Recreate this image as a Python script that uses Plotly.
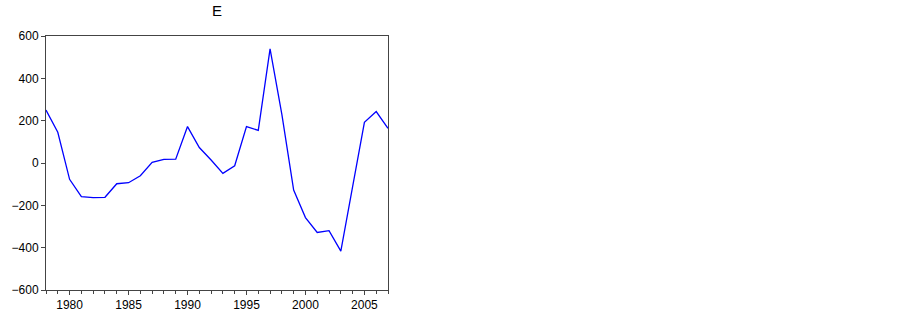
import plotly.graph_objects as go

years = list(range(1978, 2008))
values = [250, 145, -77, -159, -164, -162, -98, -93, -60, 3, 17, 18, 172, 73, 14, -49,
          -13, 172, 154, 539, 230, -128, -258, -328, -320, -416, -112, 192, 243, 164]
x_ticks = [1980, 1985, 1990, 1995, 2000, 2005]
y_ticks = [-600, -400, -200, 0, 200, 400, 600]
title_text = "E"

W, H = 903, 316
L, R, T, B = 46, 515, 36, 26

fig = go.Figure()
fig.add_trace(go.Scatter(x=years, y=values, mode="lines",
                         line=dict(color="#0000ff", width=1.3), showlegend=False))

fig.update_layout(
    width=W, height=H,
    margin=dict(l=L, r=R, t=T, b=B, autoexpand=False),
    paper_bgcolor="white", plot_bgcolor="white",
    font=dict(family="Liberation Sans, Arial, sans-serif", size=12, color="black"),
    title=dict(text=title_text, x=(L + (W - R)) / 2 / W, xanchor="center",
               y=1 - 11 / H, yanchor="middle", font=dict(size=15)),
)
fig.update_xaxes(range=[1978, 2007], tickvals=x_ticks, ticks="outside", ticklen=4,
                 tickcolor="#444", showline=True, linecolor="#444", linewidth=1,
                 mirror=True, showgrid=False, zeroline=False,
                 minor=dict(dtick=1, tick0=1978, ticks="outside", ticklen=3, tickcolor="#444"))
fig.update_yaxes(range=[-600, 600], tickvals=y_ticks, ticks="outside", ticklen=4,
                 tickcolor="#444", showline=True, linecolor="#444", linewidth=1,
                 mirror=True, showgrid=False, zeroline=False)

# remove the browser's default 8px body margin so the figure sits at the page origin
fig.write_html("out.html", config={"displayModeBar": False},
               post_script="document.body.style.margin='0';")
